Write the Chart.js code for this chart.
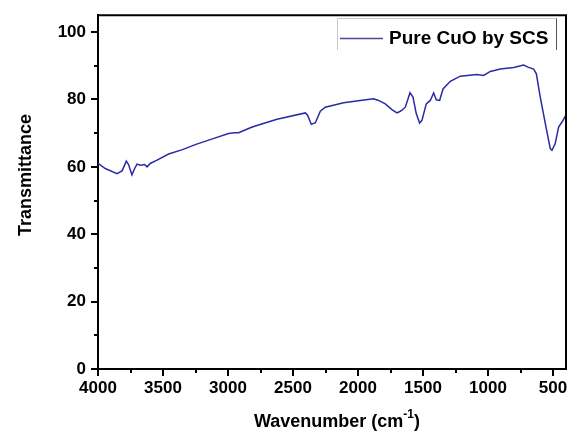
<!DOCTYPE html>
<html>
<head>
<meta charset="utf-8">
<script src="https://cdn.jsdelivr.net/npm/chart.js@4/dist/chart.umd.min.js"></script>
<style>
	html, body { margin: 0; padding: 0; background: #fff; }
	#box { width: 573px; height: 432px; }
</style>
</head>
<body>
<div id="box"><canvas id="ftir"></canvas></div>
<script>
// FTIR spectrum, values
var wavenumbers = [4000, 3944, 3854, 3815, 3782, 3765, 3739, 3718, 3700, 3675, 3641, 3623, 3598, 3546, 3457,
	3350, 3252, 3120, 2996, 2950, 2918, 2828, 2790, 2623, 2405, 2388, 2359, 2328, 2290, 2252, 2111, 1983,
	1880, 1842, 1790, 1739, 1700, 1675, 1662, 1636, 1600, 1577, 1552, 1526, 1508, 1475, 1444, 1418, 1398,
	1372, 1346, 1290, 1213, 1085, 1034, 982, 905, 803, 726, 688, 649, 628, 598, 559, 521, 508, 483, 457,
	431, 405, 400];
var transmittance = [61.0, 59.5, 58.0, 58.8, 61.7, 60.7, 57.6, 59.5, 60.8, 60.5, 60.7, 60.0, 61.0, 62.0, 63.8,
	65.1, 66.6, 68.3, 69.9, 70.1, 70.1, 71.6, 72.1, 74.1, 76.0, 75.3, 72.6, 73.1, 76.5, 77.7, 79.0, 79.7,
	80.2, 79.7, 78.7, 77.0, 76.0, 76.5, 76.8, 77.7, 82.0, 80.7, 75.8, 73.0, 73.8, 78.7, 79.7, 81.9, 79.9,
	79.7, 83.1, 85.4, 86.9, 87.4, 87.1, 88.3, 89.0, 89.5, 90.2, 89.5, 89.0, 87.6, 80.7, 72.8, 65.4, 64.9,
	66.9, 71.8, 73.3, 75.0, 75.2];
var xTicks = [4000, 3500, 3000, 2500, 2000, 1500, 1000, 500];
var xMinor = [3750, 3250, 2750, 2250, 1750, 1250, 750];
var yTicks = [0, 20, 40, 60, 80, 100];
var yMinor = [10, 30, 50, 70, 90];
var seriesName = "Pure CuO by SCS";

var lineColor = "#2a2aa6";
var tickFont = { family: "Liberation Sans, Arial, sans-serif", size: 17, weight: "bold" };

var points = wavenumbers.map(function(w, i){
	return { x : w, y : transmittance[i] };
});

// frame, minor ticks, legend and axis titles
var decorPlugin = {
	id : "decor",
	afterDraw : function(chart){
		var ctx = chart.ctx;
		var a = chart.chartArea;
		var xs = chart.scales.x, ys = chart.scales.y;
		ctx.save();
		ctx.strokeStyle = "#000";
		ctx.lineWidth = 2;
		ctx.beginPath();
		ctx.moveTo(a.left, a.top);
		ctx.lineTo(a.right, a.top);
		ctx.lineTo(a.right, a.bottom);
		ctx.stroke();

		ctx.lineWidth = 2;
		ctx.beginPath();
		xMinor.forEach(function(v){
			var px = Math.round(xs.getPixelForValue(v));
			ctx.moveTo(px, a.bottom);
			ctx.lineTo(px, a.bottom + 4);
		});
		yMinor.forEach(function(v){
			var py = Math.round(ys.getPixelForValue(v));
			ctx.moveTo(a.left, py);
			ctx.lineTo(a.left - 4, py);
		});
		ctx.stroke();

		// legend
		ctx.lineWidth = 1;
		ctx.strokeStyle = "#c8c8c8";
		ctx.beginPath();
		ctx.moveTo(337.5, 50);
		ctx.lineTo(337.5, 18.5);
		ctx.lineTo(556.5, 18.5);
		ctx.stroke();
		ctx.strokeStyle = "#555";
		ctx.beginPath();
		ctx.moveTo(556.5, 18.5);
		ctx.lineTo(556.5, 50);
		ctx.stroke();
		ctx.strokeStyle = "#4a4a9c";
		ctx.lineWidth = 1.5;
		ctx.beginPath();
		ctx.moveTo(340, 38.5);
		ctx.lineTo(383, 38.5);
		ctx.stroke();
		ctx.fillStyle = "#000";
		ctx.font = "bold 19px Liberation Sans, Arial, sans-serif";
		ctx.textBaseline = "alphabetic";
		ctx.textAlign = "left";
		ctx.fillText(seriesName, 389, 44);

		// y title
		ctx.font = "bold 18px Liberation Sans, Arial, sans-serif";
		ctx.save();
		ctx.translate(31, 175);
		ctx.rotate(-Math.PI / 2);
		ctx.textAlign = "center";
		ctx.fillText("Transmittance", 0, 0);
		ctx.restore();

		// x title with superscript
		var main = "Wavenumber (cm";
		ctx.font = "bold 18px Liberation Sans, Arial, sans-serif";
		var w1 = ctx.measureText(main).width;
		ctx.font = "bold 12px Liberation Sans, Arial, sans-serif";
		var w2 = ctx.measureText("-1").width;
		ctx.font = "bold 18px Liberation Sans, Arial, sans-serif";
		var w3 = ctx.measureText(")").width;
		var x0 = 337 - (w1 + w2 + w3) / 2;
		ctx.fillText(main, x0, 427);
		ctx.font = "bold 12px Liberation Sans, Arial, sans-serif";
		ctx.fillText("-1", x0 + w1, 418);
		ctx.font = "bold 18px Liberation Sans, Arial, sans-serif";
		ctx.fillText(")", x0 + w1 + w2, 427);
		ctx.restore();
	}
};

var chart = new Chart(document.getElementById("ftir"), {
	type : "scatter",
	data : {
		datasets : [{
			label : seriesName,
			data : points,
			showLine : true,
			borderColor : lineColor,
			borderWidth : 1.5,
			pointRadius : 0,
			tension : 0
		}]
	},
	options : {
		responsive : true,
		maintainAspectRatio : false,
		animation : false,
		layout : { padding : { top : 13, right : 7, left : 0, bottom : 0 } },
		plugins : {
			legend : { display : false },
			tooltip : { enabled : false }
		},
		scales : {
			x : {
				type : "linear",
				reverse : true,
				min : 400,
				max : 4000,
				afterBuildTicks : function(scale){
					scale.ticks = xTicks.map(function(v){ return { value : v }; });
				},
				afterFit : function(scale){ scale.height = 63; },
				grid : { drawOnChartArea : false, drawTicks : true, tickLength : 7, color : "#000", lineWidth : 2 },
				border : { display : true, color : "#000", width : 2 },
				ticks : {
					color : "#000", font : tickFont, padding : 2, maxRotation : 0, autoSkip : false,
					callback : function(v){ return String(v); }
				}
			},
			y : {
				type : "linear",
				min : 0,
				max : 105,
				afterBuildTicks : function(scale){
					scale.ticks = yTicks.map(function(v){ return { value : v }; });
				},
				afterFit : function(scale){ scale.width = 98; },
				grid : { drawOnChartArea : false, drawTicks : true, tickLength : 7, color : "#000", lineWidth : 2 },
				border : { display : true, color : "#000", width : 2 },
				ticks : {
					color : "#000", font : tickFont, padding : 5,
					callback : function(v){ return String(v); }
				}
			}
		}
	},
	plugins : [decorPlugin]
});
</script>
</body>
</html>
